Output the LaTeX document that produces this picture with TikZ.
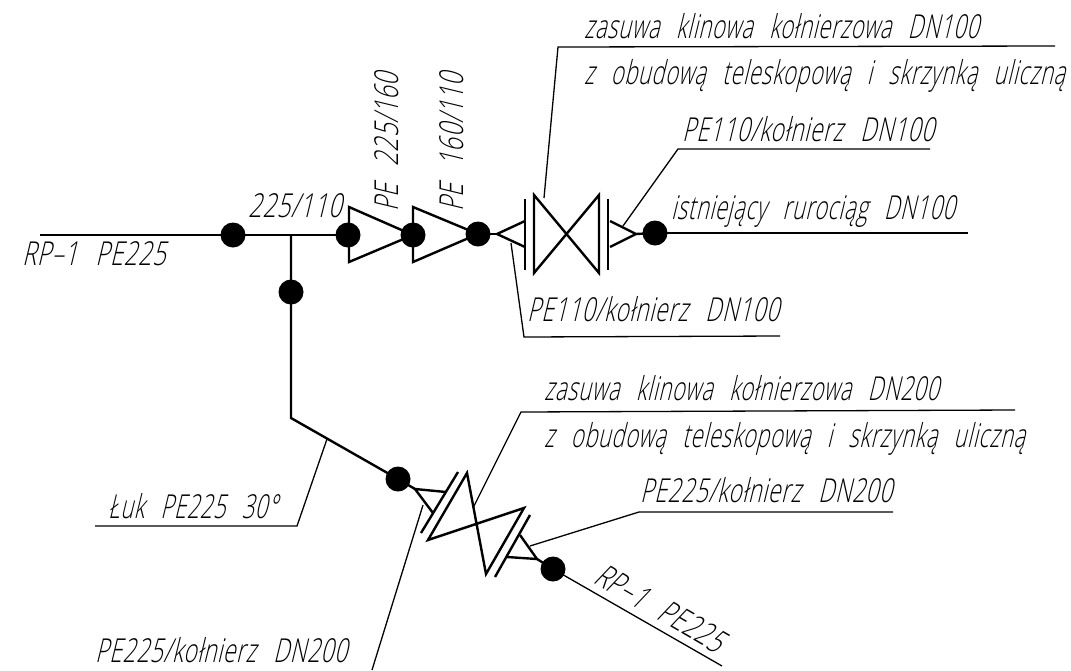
\documentclass[tikz,border=0pt]{standalone}
\usepackage{fontspec}
\setmainfont[UprightFont=* Light,BoldFont=*,FakeSlant=0.24,FakeStretch=0.69,WordSpace=2.6,LetterSpace=2]{Open Sans}
\newfontfamily\narrowf[UprightFont=* Light,BoldFont=*,FakeSlant=0.24,FakeStretch=0.66,WordSpace=2.6,LetterSpace=2]{Open Sans}
\newfontfamily\widef[UprightFont=* Light,BoldFont=*,FakeSlant=0.24,FakeStretch=0.72,WordSpace=2.6,LetterSpace=2]{Open Sans}
\tikzset{
  pipe/.style={line width=2.4pt,black,line join=miter},
  thinpipe/.style={line width=1.7pt,black},
  leader/.style={line width=1.3pt,black},
  sym/.style={line width=2.4pt,black,line join=miter},
  dot/.style={circle,fill=black,inner sep=0pt,minimum size=25pt},
  lab/.style={anchor=base west,inner sep=0pt,font=\fontsize{33}{36}\selectfont,text=black},
  labn/.style={lab,font=\fontsize{33}{36}\selectfont\narrowf},
  labw/.style={lab,font=\fontsize{33}{36}\selectfont\widef}
}
\begin{document}
\begin{tikzpicture}[x=1pt,y=-1pt]
\useasboundingbox (0,0) rectangle (1071,670);
% dots
\node[dot] (d1) at (233,235) {};
\node[dot] (d2) at (348,235) {};
\node[dot] (d3) at (413,235) {};
\node[dot] (d4) at (478,234) {};
\node[dot] (d5) at (655,233) {};
\node[dot] (d6) at (291,292) {};
\node[dot] (d7) at (398,479) {};
\node[dot] (d8) at (553,569) {};
% free ends and bends
\coordinate (w) at (40,235);
\coordinate (e) at (968,233);
\coordinate (t) at (291,235);
\coordinate (b) at (291,418);
\coordinate (se) at (722,666);
% pipes
\draw[thinpipe] (w) -- (d1.center);
\draw[pipe] (d1.center) -- (d2.center);
\draw[pipe] (t) -- (b) -- (d7.center);
\draw[leader] (d5.center) -- (e);
\draw[leader] (d8.center) -- (se);
% reducers
\draw[sym] (349,207) -- (413,235) -- (349,262) -- cycle;
\draw[sym] (413,207) -- (478,234) -- (413,262) -- cycle;
% upper valve
\draw[sym] (d4.center) -- (497,234);
\draw[sym] (525,221) -- (497,234) -- (525,247);
\draw[sym] (525,199) -- (525,270);
\draw[sym] (534,195) -- (599,273) -- (599,195) -- (534,273) -- cycle;
\draw[sym] (608,199) -- (608,270);
\draw[sym] (610,221) -- (636,234) -- (610,247);
\draw[sym] (636,234) -- (d5.center);
% lower valve
\draw[sym] (d7.center) -- (415,489);
\draw[sym] (446,492) -- (415,489) -- (433,513);
\draw[sym] (458,472) -- (421,533);
\draw[sym] (467,473) -- (486,574) -- (524,508) -- (428,540) -- cycle;
\draw[sym] (530,515) -- (495,577);
\draw[sym] (520,535) -- (537,559) -- (507,557);
\draw[sym] (537,559) -- (d8.center);
% leaders
\coordinate (l1a) at (544,198);
\coordinate (l1b) at (558,47);
\coordinate (l1c) at (1055,46);
\draw[leader] (l1a) -- (l1b) -- (l1c);
\coordinate (l2a) at (623,226);
\coordinate (l2b) at (678,149);
\coordinate (l2c) at (930,149);
\draw[leader] (l2a) -- (l2b) -- (l2c);
\coordinate (l3a) at (511,243);
\coordinate (l3b) at (524,337);
\coordinate (l3c) at (780,336);
\draw[leader] (l3a) -- (l3b) -- (l3c);
\coordinate (l4a) at (473,508);
\coordinate (l4b) at (521,412);
\coordinate (l4c) at (1015,410);
\draw[leader] (l4a) -- (l4b) -- (l4c);
\coordinate (l5a) at (530,546);
\coordinate (l5b) at (639,512);
\coordinate (l5c) at (893,512);
\draw[leader] (l5a) -- (l5b) -- (l5c);
\coordinate (l6a) at (327,439);
\coordinate (l6b) at (297,526);
\coordinate (l6c) at (95,526);
\draw[leader] (l6a) -- (l6b) -- (l6c);
\coordinate (l7a) at (423,505);
\coordinate (l7b) at (372,670);
\draw[leader] (l7a) -- (l7b);
% labels
\node[labn] (t1) at (584,38) {zasuwa klinowa kołnierzowa DN100};
\node[labn] (t2) at (584,84) {z obudową teleskopową i skrzynką uliczną};
\node[lab] (t3) at (682,141) {PE110/kołnierz DN100};
\node[labn] (t4) at (671,219) {istniejący rurociąg DN100};
\node[lab] (t5) at (527,321) {PE110/kołnierz DN100};
\node[labw] (t6) at (248,217) {225/110};
\node[labw,rotate=90] (t7) at (398,212) {PE 225/160};
\node[labw,rotate=90] (t8) at (463,212) {PE 160/110};
\node[labw] (t9) at (22,265) {RP–1 PE225};
\node[labn] (t10) at (544,400) {zasuwa klinowa kołnierzowa DN200};
\node[labn] (t11) at (544,447) {z obudową teleskopową i skrzynką uliczną};
\node[lab] (t12) at (640,502) {PE225/kołnierz DN200};
\node[labn] (t13) at (108,518) {Łuk PE225 30°};
\node[lab] (t14) at (95,662) {PE225/kołnierz DN200};
\node[labw,rotate=-30] (t15) at (592,582) {RP–1 PE225};
\end{tikzpicture}
\end{document}
